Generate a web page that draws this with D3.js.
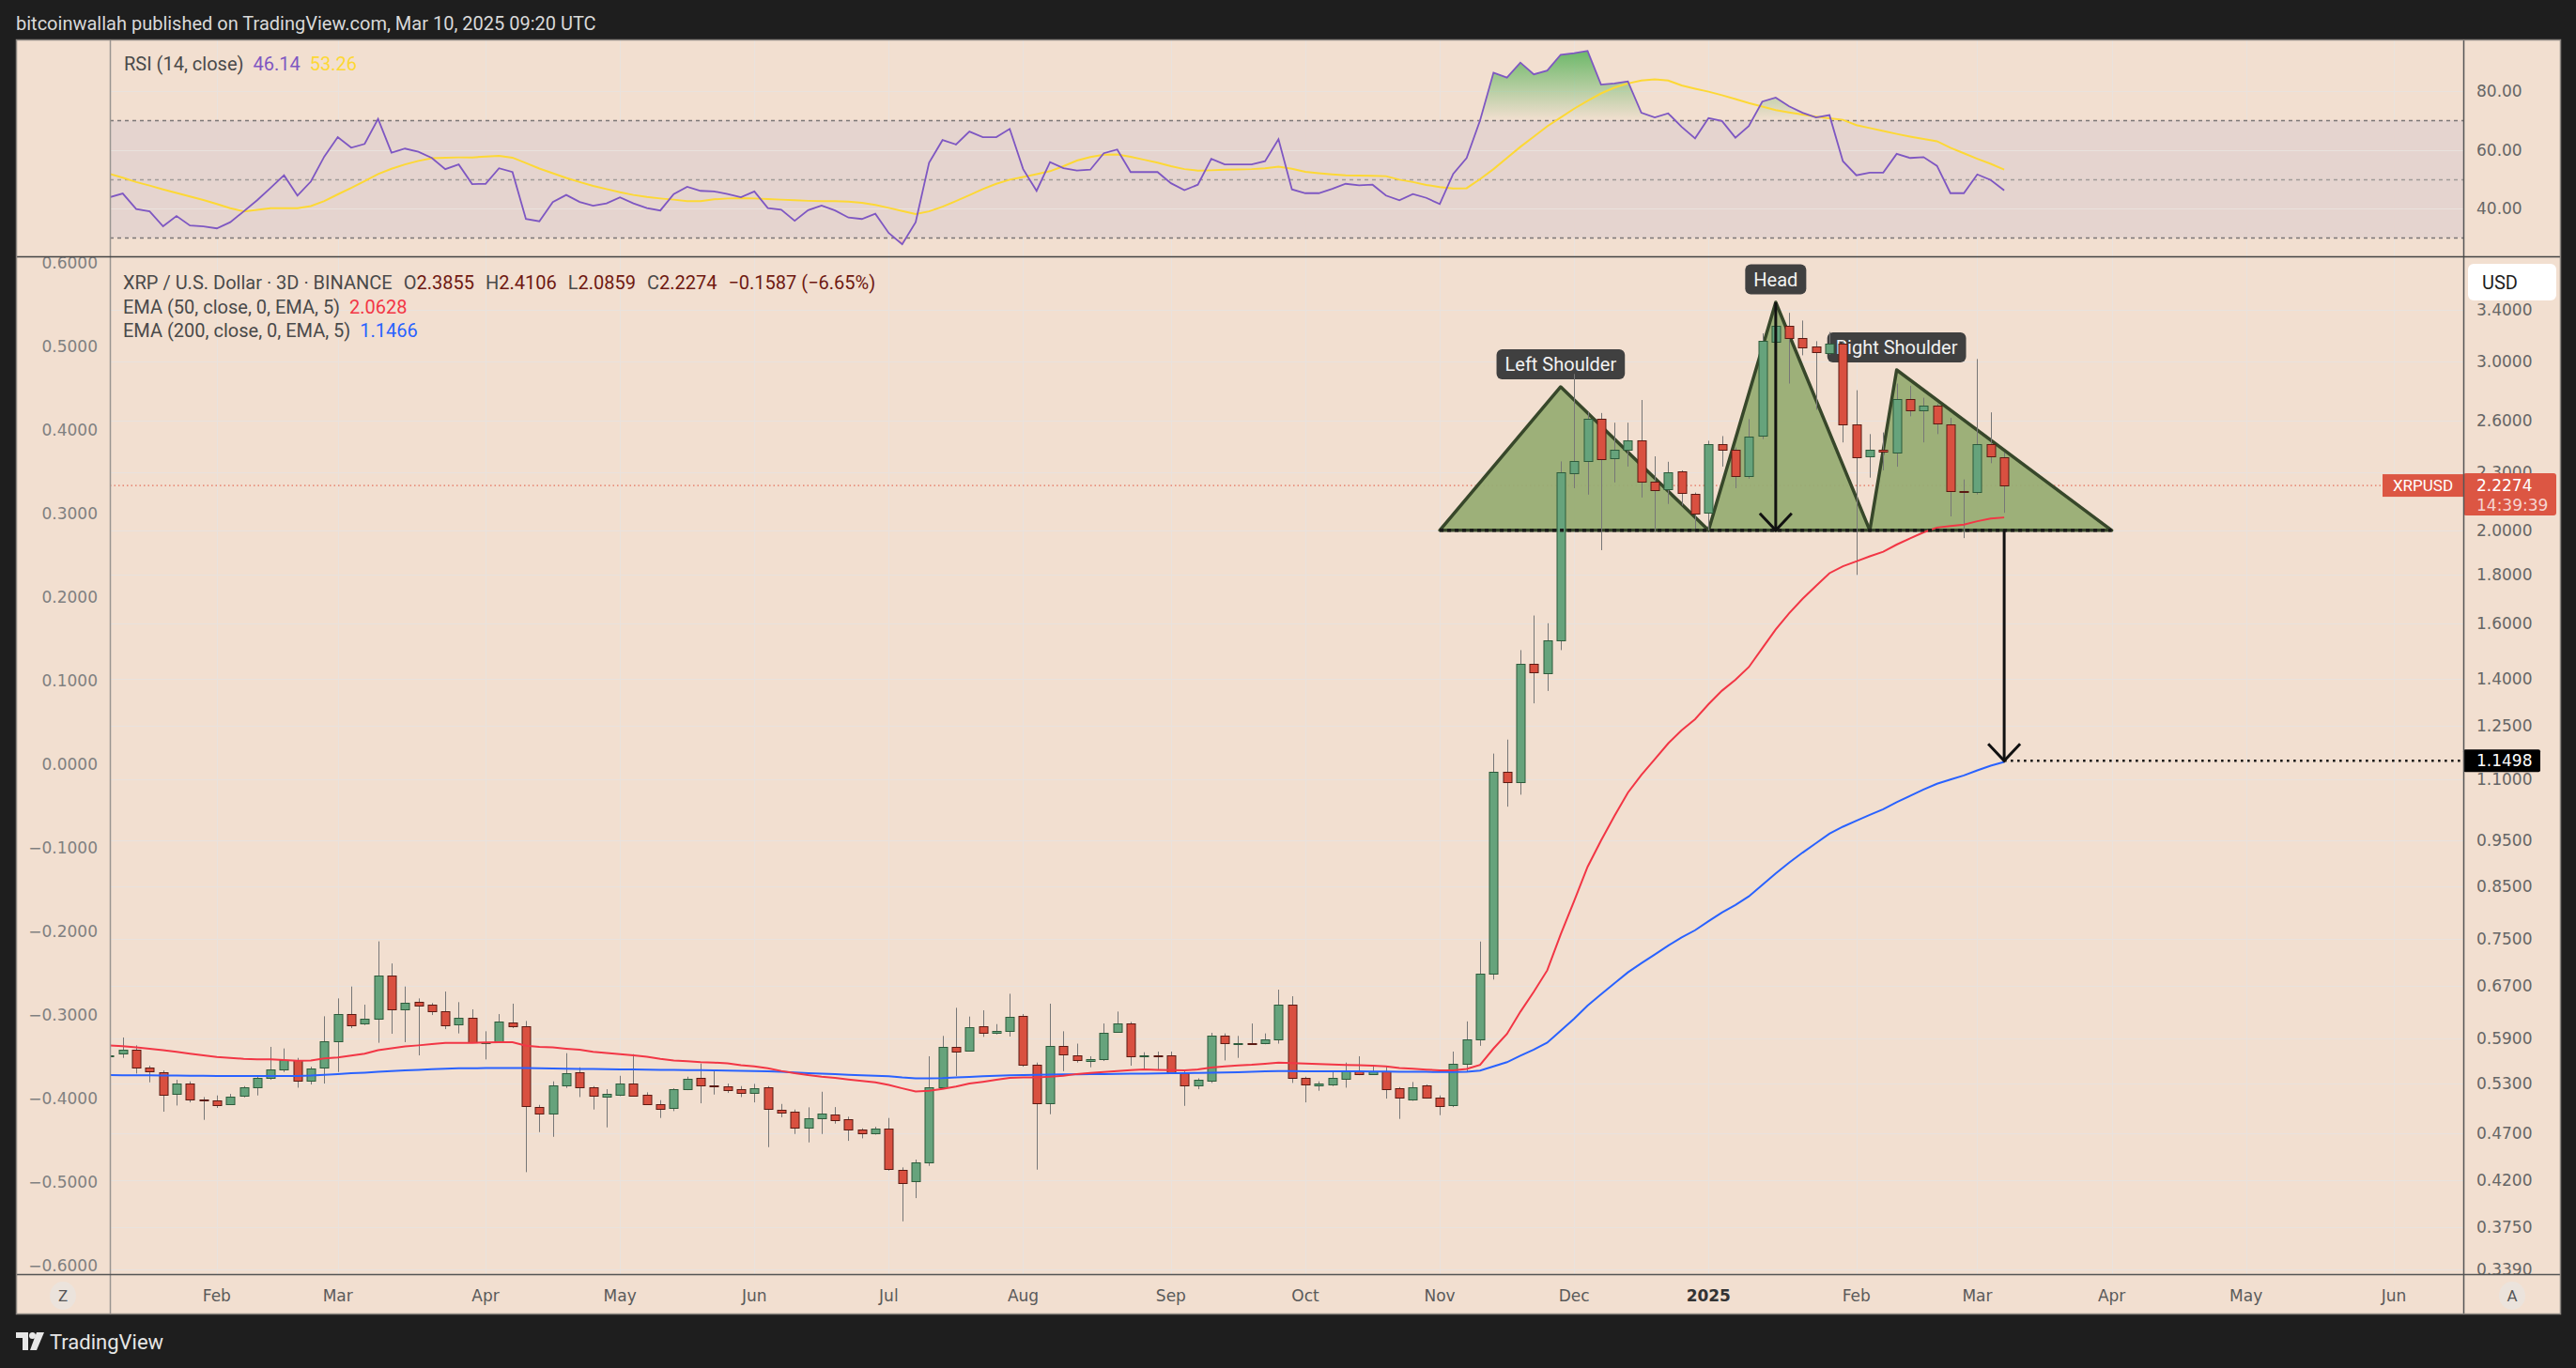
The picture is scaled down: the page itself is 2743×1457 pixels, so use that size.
<!DOCTYPE html>
<html><head><meta charset="utf-8">
<script src="https://cdn.jsdelivr.net/npm/d3@7"></script>
<style>
html,body{margin:0;padding:0;background:#1e1e1e;overflow:hidden;}
svg{display:block;}
</style></head><body>
<svg id="chart" width="2743" height="1457"></svg>
<script>
// ---------------- DATA ----------------
const barStart = "2024-01-10";   // first 3D bar
const barDays = 3;
const opens = [
.5660,.5690,.5741,.5500,.5446,.5159,.5293,.5098,.5090,.5036,
.5136,.5245,.5365,.5475,.5600,.5325,.5500,.5860,.6259,.6110,
.6184,.6861,.6321,.6441,.6402,.6307,.6096,.6198,.5842,.5860,
.6133,.6073,.5006,.4932,.5273,.5438,.5245,.5128,.5155,.5297,
.5155,.5044,.4988,.5222,.5365,.5273,.5257,.5222,.5175,.5245,
.4977,.4947,.4761,.4874,.4914,.4863,.4739,.4693,.4750,.4308,
.4187,.4380,.5245,.5785,.5728,.6073,.5984,.6006,.6226,.5537,
.5048,.5793,.5668,.5583,.5613,.5993,.6119,.5660,.5668,.5664,
.5434,.5277,.5325,.5939,.5834,.5838,.5830,.5886,.6402,.5365,
.5277,.5285,.5365,.5458,.5418,.5458,.5233,.5101,.5273,.5117,
.5025,.5550,.5887,.6890,1.119,1.092,1.450,1.420,1.535,2.297,
2.364,2.616,2.376,2.425,2.482,2.247,2.205,2.302,2.185,2.084,
2.458,2.425,2.277,2.506,3.150,3.271,3.177,3.107,3.066,3.133,
2.581,2.385,2.425,2.413,2.741,2.666,2.696,2.581,2.199,2.190,
2.458,2.3855];
const highs = [
.5690,.5917,.5806,.5529,.5467,.5345,.5325,.5128,.5148,.5167,
.5265,.5405,.5785,.5763,.5634,.5516,.6226,.6499,.6687,.6402,
.7453,.7068,.6687,.6499,.6427,.6607,.6441,.6331,.6006,.6259,
.6417,.6156,.5033,.5325,.5698,.5508,.5265,.5226,.5397,.5685,
.5187,.5090,.5237,.5385,.5558,.5467,.5297,.5265,.5293,.5265,
.5044,.4977,.5003,.5194,.5006,.4892,.4757,.4775,.4877,.4331,
.4413,.5656,.5939,.6354,.6222,.6316,.6110,.6572,.6259,.5571,
.6417,.6006,.5830,.5656,.6119,.6297,.6142,.5711,.5720,.5720,
.5467,.5365,.5984,.5975,.5939,.6119,.5975,.6637,.6533,.5385,
.5325,.5467,.5571,.5656,.5541,.5529,.5253,.5317,.5285,.5148,
.5720,.6150,.7450,1.170,1.210,1.500,1.630,1.600,2.360,2.911,
2.661,2.651,2.590,2.590,2.735,2.389,2.358,2.310,2.190,2.480,
2.508,2.440,2.612,3.210,3.400,3.372,3.310,3.150,3.220,3.150,
2.800,2.520,2.530,2.845,2.830,2.750,2.710,2.620,2.260,3.018,
2.655,2.4106];
const lows = [
.5650,.5634,.5426,.5313,.4951,.5025,.5063,.4855,.4996,.5033,
.5124,.5148,.5345,.5446,.5245,.5285,.5297,.5446,.6051,.6096,
.5842,.5970,.5851,.5668,.6245,.6037,.5975,.5838,.5613,.5851,
.6051,.4282,.4714,.4661,.5241,.5128,.4977,.4768,.5140,.5136,
.5033,.4877,.4958,.5214,.5052,.5159,.5179,.5128,.5063,.4547,
.4885,.4693,.4599,.4693,.4811,.4616,.4644,.4686,.4298,.3805,
.4023,.4347,.5226,.5393,.5720,.5926,.5961,.5930,.5516,.4308,
.4921,.5458,.5571,.5508,.5592,.5984,.5529,.5487,.5467,.5430,
.5021,.5226,.5305,.5600,.5634,.5830,.5821,.5830,.5305,.5063,
.5206,.5265,.5245,.5405,.5409,.5109,.4866,.5082,.5109,.4910,
.5006,.5450,.5800,.6800,1.030,1.060,1.320,1.360,1.500,2.213,
2.179,1.907,2.244,2.331,2.164,1.992,2.131,2.123,2.000,2.000,
2.331,2.213,2.264,2.490,3.000,2.845,3.045,2.672,3.050,2.470,
1.797,2.270,2.310,2.330,2.630,2.470,2.520,2.068,1.963,2.180,
2.350,2.0859];
const closes = [
.5668,.5741,.5500,.5446,.5159,.5293,.5090,.5090,.5036,.5128,
.5245,.5365,.5475,.5600,.5325,.5487,.5860,.6259,.6096,.6184,
.6861,.6321,.6427,.6378,.6307,.6096,.6198,.5842,.5851,.6142,
.6073,.5014,.4932,.5273,.5426,.5245,.5140,.5163,.5297,.5148,
.5044,.4988,.5222,.5353,.5265,.5265,.5206,.5175,.5237,.4977,
.4947,.4761,.4874,.4929,.4848,.4739,.4693,.4750,.4308,.4178,
.4380,.5245,.5785,.5720,.6060,.5984,.6015,.6212,.5537,.5048,
.5793,.5677,.5600,.5613,.5984,.6119,.5651,.5668,.5660,.5434,
.5277,.5345,.5939,.5834,.5838,.5834,.5886,.6402,.5365,.5277,
.5297,.5365,.5458,.5426,.5458,.5233,.5117,.5253,.5117,.5014,
.5550,.5887,.6890,1.119,1.092,1.450,1.420,1.535,2.297,2.364,
2.616,2.376,2.425,2.482,2.247,2.201,2.297,2.185,2.084,2.458,
2.425,2.277,2.506,3.150,3.271,3.177,3.107,3.066,3.133,2.581,
2.385,2.425,2.413,2.741,2.666,2.696,2.581,2.199,2.195,2.458,
2.3861,2.2274];
const ema50 = [
.5806,.5795,.5777,.5760,.5738,.5716,.5690,.5668,.5647,.5634,
.5621,.5616,.5613,.5605,.5594,.5600,.5628,.5640,.5665,.5690,
.5740,.5765,.5790,.5806,.5825,.5842,.5842,.5842,.5846,.5851,
.5851,.5800,.5785,.5777,.5760,.5745,.5718,.5700,.5685,.5668,
.5650,.5620,.5600,.5588,.5577,.5571,.5560,.5535,.5520,.5495,
.5460,.5430,.5405,.5385,.5370,.5350,.5330,.5313,.5280,.5237,
.5198,.5206,.5230,.5260,.5297,.5320,.5345,.5370,.5377,.5377,
.5385,.5397,.5420,.5435,.5446,.5458,.5470,.5479,.5475,.5470,
.5467,.5480,.5505,.5520,.5532,.5541,.5555,.5571,.5565,.5558,
.5552,.5545,.5540,.5535,.5529,.5520,.5500,.5490,.5478,.5467,
.5467,.5486,.5541,.5762,.5967,.6294,.6604,.6953,.7581,.8210,
.8914,.9496,1.0074,1.0652,1.1115,1.1542,1.1990,1.2377,1.2709,1.3174,
1.3608,1.3967,1.4402,1.5072,1.5764,1.6391,1.6966,1.7503,1.8045,1.8349,
1.8565,1.8788,1.8997,1.9327,1.9615,1.9903,2.0134,2.0207,2.0275,2.0444,
2.0579,2.0628];
const ema200 = [
.5405,.5404,.5403,.5402,.5400,.5399,.5397,.5396,.5395,.5394,
.5394,.5393,.5393,.5393,.5395,.5400,.5410,.5420,.5430,.5438,
.5448,.5458,.5467,.5475,.5482,.5488,.5494,.5496,.5498,.5499,
.5500,.5498,.5495,.5492,.5490,.5487,.5485,.5483,.5481,.5479,
.5477,.5475,.5474,.5472,.5470,.5468,.5465,.5462,.5458,.5454,
.5448,.5440,.5432,.5425,.5418,.5410,.5403,.5398,.5390,.5375,
.5365,.5365,.5368,.5375,.5382,.5390,.5398,.5404,.5406,.5408,
.5412,.5414,.5416,.5418,.5420,.5422,.5424,.5426,.5428,.5430,
.5432,.5434,.5436,.5440,.5444,.5450,.5455,.5458,.5457,.5456,
.5455,.5455,.5455,.5454,.5453,.5452,.5450,.5449,.5448,.5447,
.5446,.5450,.5464,.5521,.5576,.5663,.5748,.5845,.6015,.6190,
.6389,.6562,.6738,.6918,.7073,.7222,.7379,.7523,.7655,.7823,
.7987,.8134,.8304,.8535,.8776,.9005,.9224,.9437,.9655,.9816,
.9956,1.0098,1.0238,1.0409,1.0570,1.0733,1.0883,1.0994,1.1103,1.1237,
1.1363,1.1466];
const rsi = [
43.8,45.1,39.8,39.0,33.9,37.4,34.2,33.9,33.2,35.3,
39.0,42.8,47.0,51.3,44.4,49.2,57.7,64.3,60.7,62.0,
70.5,59.0,60.4,59.3,57.2,53.4,55.0,48.3,48.4,53.7,
52.4,36.4,35.6,42.2,44.6,42.2,40.9,41.7,43.8,41.7,
40.1,39.3,44.9,47.4,46.0,45.8,44.9,43.8,45.8,40.1,
39.6,35.8,39.4,41.0,39.3,36.9,36.4,38.2,31.6,27.8,
35.3,55.6,63.3,61.8,66.2,64.3,64.3,67.1,53.4,46.0,
55.8,53.7,52.9,53.2,58.8,60.1,52.4,52.4,52.4,48.6,
46.2,48.1,56.9,55.0,55.0,55.0,56.1,63.6,46.5,45.2,
45.2,46.7,48.4,47.9,48.1,44.4,42.8,44.9,43.6,41.5,
51.8,57.2,70.0,86.3,84.6,89.7,85.7,87.0,92.4,92.9,
93.7,82.2,82.6,83.3,72.6,71.0,72.4,67.8,63.9,70.8,
69.8,64.1,68.1,76.4,77.8,74.8,72.6,71.0,71.8,56.1,
51.3,52.2,52.2,58.6,57.2,57.5,54.5,45.2,45.2,51.6,
49.7,46.14];
const rsiMA = [
51.8,50.5,49.0,47.8,46.5,45.3,44.1,42.9,41.5,40.1,
39.0,39.5,40.1,40.1,40.1,40.8,42.5,44.8,47.0,49.3,
51.7,53.5,55.0,56.2,57.1,57.3,57.4,57.4,57.7,57.9,
57.3,55.5,53.6,52.0,50.4,49.0,47.7,46.6,45.5,44.6,
43.9,43.4,43.0,42.5,42.5,43.1,43.4,43.5,43.4,43.2,
43.0,42.8,42.6,42.5,42.5,42.3,41.9,41.2,40.2,39.1,
38.1,39.0,40.6,42.5,44.5,46.6,48.4,49.8,50.7,51.7,
52.7,54.4,56.3,57.5,58.3,58.4,57.6,56.6,55.6,54.4,
53.4,52.9,53.0,53.2,53.3,53.4,53.7,54.2,53.5,52.5,
52.0,51.6,51.3,51.2,51.1,51.0,49.8,49.0,48.0,47.3,
46.8,46.9,50.0,53.4,57.2,61.0,64.5,68.0,71.0,74.0,
76.7,79.2,81.2,82.6,83.6,84.0,83.6,81.9,80.8,79.8,
78.6,77.3,75.9,74.7,73.5,72.7,72.0,71.3,70.7,70.2,
68.4,67.4,66.4,65.4,64.5,63.7,62.9,60.7,58.8,56.9,
55.2,53.26];

const monthLabels = ["Feb","Mar","Apr","May","Jun","Jul","Aug","Sep","Oct","Nov","Dec","2025","Feb","Mar","Apr","May","Jun"];
const monthStarts = ["2024-02-01","2024-03-01","2024-04-01","2024-05-01","2024-06-01","2024-07-01","2024-08-01","2024-09-01","2024-10-01","2024-11-01","2024-12-01","2025-01-01","2025-02-01","2025-03-01","2025-04-01","2025-05-01","2025-06-01"];
const priceTicks = [3.4,3.0,2.6,2.3,2.0,1.8,1.6,1.4,1.25,1.1,0.95,0.85,0.75,0.67,0.59,0.53,0.47,0.42,0.375,0.339];
const leftTicks = [0.6,0.5,0.4,0.3,0.2,0.1,0,-0.1,-0.2,-0.3,-0.4,-0.5,-0.6];
const rsiTicks = [80,60,40];
const rsiLevels = [70,50,30];

// Head & shoulders annotation (bar index, price)
const neckPrice = 2.0;
const leftShoulder = [[99,2.0],[108,2.823],[119,2.0]];
const headPts = [[119,2.0],[124,3.458],[131,2.0]];
const rightShoulder = [[131,2.0],[133,2.94],[149,2.0]];
const neckline = [[99,2.0],[149,2.0]];
const patternLabels = [{t:"Left Shoulder",bar:108,p:2.98},{t:"Head",bar:124,p:3.654},{t:"Right Shoulder",bar:133,p:3.103}];
const headArrow = {bar:124, from:3.458, to:2.0};
const targetArrow = {bar:141, from:2.0, to:1.1498};
const targetPrice = 1.1498;
const lastPrice = 2.2274;

// ---------------- LAYOUT ----------------
const W=2743,H=1457;
const FX0=17,FX1=2727,FY0=42,FY1=1400;
const PX0=117,PX1=2623;
const RY0=43,RY1=273,PY0=273,PY1=1357;
const N = closes.length;
const DAY=864e5;
const start = new Date(barStart+"T00:00:00Z");
const barDate = i => new Date(start.getTime()+i*barDays*DAY);

const x = d3.scaleTime().domain([start, new Date("2025-06-03T00:00:00Z")]).range([116.4, 2549.1]);
const xi = i => x(barDate(i));
const yP = d3.scaleLog().domain([0.3352, 3.862]).range([PY1, PY0]);
const yL = d3.scaleLinear().domain([-0.6,0.6]).range([1347.7,280.3]);
const yR = d3.scaleLinear().domain([23.68,97.28]).range([RY1,RY0]);

const BG="#f2dfd0";
const AX_FONT='"DejaVu Sans", Verdana, sans-serif';
const UI_FONT='Roboto, "Liberation Sans", Arial, sans-serif';

const svg = d3.select("#chart");
const defs = svg.append("defs");
defs.append("clipPath").attr("id","plotClip").append("rect").attr("x",PX0).attr("y",PY0).attr("width",PX1-PX0).attr("height",PY1-PY0);
defs.append("clipPath").attr("id","rsiClip").append("rect").attr("x",PX0).attr("y",RY0).attr("width",PX1-PX0).attr("height",RY1-RY0);
defs.append("clipPath").attr("id","rAxClip").append("rect").attr("x",PX1).attr("y",PY0).attr("width",FX1-PX1).attr("height",PY1-PY0);
defs.append("clipPath").attr("id","obClip").append("rect").attr("x",PX0).attr("y",RY0).attr("width",PX1-PX0).attr("height",yR(70)-RY0);
defs.append("clipPath").attr("id","osClip").append("rect").attr("x",PX0).attr("y",yR(30)).attr("width",PX1-PX0).attr("height",RY1-yR(30));
const gOB = defs.append("linearGradient").attr("id","obGrad").attr("gradientUnits","userSpaceOnUse").attr("x1",0).attr("x2",0).attr("y1",yR(95)).attr("y2",yR(70));
gOB.append("stop").attr("offset",0).attr("stop-color","#4caf50").attr("stop-opacity",0.85);
gOB.append("stop").attr("offset",1).attr("stop-color","#4caf50").attr("stop-opacity",0);
const gOS = defs.append("linearGradient").attr("id","osGrad").attr("gradientUnits","userSpaceOnUse").attr("x1",0).attr("x2",0).attr("y1",yR(30)).attr("y2",yR(25));
gOS.append("stop").attr("offset",0).attr("stop-color","#f23645").attr("stop-opacity",0);
gOS.append("stop").attr("offset",1).attr("stop-color","#f23645").attr("stop-opacity",0.7);

// background
svg.append("rect").attr("width",W).attr("height",H).attr("fill","#1e1e1e");
svg.append("rect").attr("x",FX0).attr("y",FY0).attr("width",FX1-FX0).attr("height",FY1-FY0).attr("fill",BG);

// header
svg.append("text").attr("x",17).attr("y",25).attr("dominant-baseline","central")
  .attr("font-family",UI_FONT).attr("font-size",20).attr("fill","#d9d9d9")
  .text("bitcoinwallah published on TradingView.com, Mar 10, 2025 09:20 UTC");

// month tick positions (first bar of each month)
const monthX = monthStarts.map(s=>{
  const d=new Date(s+"T00:00:00Z");
  const k=Math.ceil((d-start)/(barDays*DAY));
  return xi(k);
});

// ---------------- GRID ----------------
const grid = svg.append("g");
monthX.forEach(mx=>{
  if(mx>PX0 && mx<PX1){
    grid.append("line").attr("x1",Math.round(mx)+0.5).attr("x2",Math.round(mx)+0.5).attr("y1",RY0).attr("y2",PY1)
      .attr("stroke","#e9e2dd").attr("stroke-width",1);
  }
});
priceTicks.forEach(p=>{
  const yy=Math.round(yP(p))+0.5;
  if(yy>PY0+2 && yy<PY1) grid.append("line").attr("x1",PX0).attr("x2",PX1).attr("y1",yy).attr("y2",yy).attr("stroke","#e9e2dd").attr("stroke-width",1);
});

// ---------------- RSI PANE ----------------
const rsiG = svg.append("g").attr("clip-path","url(#rsiClip)");
rsiG.append("rect").attr("x",PX0).attr("width",PX1-PX0).attr("y",yR(70)).attr("height",yR(30)-yR(70)).attr("fill","#e5d4cf");
rsiTicks.forEach(v=>{
  const yy=Math.round(yR(v))+0.5;
  rsiG.append("line").attr("x1",PX0).attr("x2",PX1).attr("y1",yy).attr("y2",yy).attr("stroke","#e9e2dd");
});
rsiLevels.forEach(v=>{
  const yy=Math.round(yR(v))+0.5;
  rsiG.append("line").attr("x1",PX0).attr("x2",PX1).attr("y1",yy).attr("y2",yy)
    .attr("stroke", v===50?"#a09a98":"#7b7676").attr("stroke-width",1.3).attr("stroke-dasharray","4,4");
});
const idx = d3.range(N);
rsiG.append("path").datum(idx).attr("clip-path","url(#obClip)")
  .attr("d", d3.area().x(i=>xi(i)).y0(yR(70)).y1(i=>yR(rsi[i])))
  .attr("fill","url(#obGrad)");
rsiG.append("path").datum(idx).attr("clip-path","url(#osClip)")
  .attr("d", d3.area().x(i=>xi(i)).y0(yR(30)).y1(i=>yR(rsi[i])))
  .attr("fill","url(#osGrad)");
rsiG.append("path").datum(idx).attr("d", d3.line().x(i=>xi(i)).y(i=>yR(rsiMA[i])))
  .attr("fill","none").attr("stroke","#fdd835").attr("stroke-width",2);
rsiG.append("path").datum(idx).attr("d", d3.line().x(i=>xi(i)).y(i=>yR(rsi[i])))
  .attr("fill","none").attr("stroke","#7e57c2").attr("stroke-width",1.8);

// RSI legend
const rl = svg.append("text").attr("x",132).attr("y",68).attr("dominant-baseline","central")
  .attr("font-family",UI_FONT).attr("font-size",20).attr("fill","#4a4a4a");
rl.append("tspan").text("RSI (14, close)");
rl.append("tspan").attr("dx",10).attr("fill","#7e57c2").text("46.14");
rl.append("tspan").attr("dx",10).attr("fill","#fdd835").text("53.26");

// RSI axis labels
rsiTicks.forEach(v=>{
  svg.append("text").attr("x",2637).attr("y",yR(v)).attr("dominant-baseline","central")
    .attr("font-family",AX_FONT).attr("font-size",17).attr("fill","#666").text(v.toFixed(2));
});

// ---------------- PRICE PANE ----------------
const pG = svg.append("g").attr("clip-path","url(#plotClip)");
const pt = d => [xi(d[0]), yP(d[1])];

// current price dotted line
pG.append("line").attr("x1",PX0).attr("x2",PX1).attr("y1",yP(lastPrice)).attr("y2",yP(lastPrice))
  .attr("stroke","#e0533f").attr("stroke-width",1).attr("stroke-dasharray","1.5,3");

// triangles
[leftShoulder, headPts, rightShoulder].forEach(tri=>{
  pG.append("path").attr("d", d3.line()(tri.map(pt))+"Z")
    .attr("fill","#98ad74").attr("fill-opacity",0.95)
    .attr("stroke","#37472a").attr("stroke-width",3.5).attr("stroke-linejoin","round");
});

// labels
patternLabels.forEach(l=>{
  const g = pG.append("g");
  const t = g.append("text").attr("x",xi(l.bar)).attr("y",yP(l.p)).attr("text-anchor","middle")
    .attr("dominant-baseline","central").attr("font-family",UI_FONT).attr("font-size",20).attr("fill","#f2f2f2").text(l.t);
  const w = t.node().getComputedTextLength()+18;
  g.insert("rect","text").attr("x",xi(l.bar)-w/2).attr("y",yP(l.p)-16).attr("width",w).attr("height",32).attr("rx",6).attr("fill","#404040");
});

// candles
const cg = pG.append("g");
idx.forEach(i=>{
  const up = closes[i]>=opens[i];
  const cx = Math.round(xi(i))+0.5;
  cg.append("line").attr("x1",cx).attr("x2",cx).attr("y1",yP(highs[i])).attr("y2",yP(lows[i]))
    .attr("stroke","#777").attr("stroke-width",1);
  const yt = yP(Math.max(opens[i],closes[i])), yb = yP(Math.min(opens[i],closes[i]));
  cg.append("rect").attr("x",cx-4.5).attr("width",9).attr("y",Math.round(yt)+0.5).attr("height",Math.max(1,Math.round(yb-yt)))
    .attr("fill", up?"#66a37c":"#d95040").attr("stroke", up?"#2d5b3b":"#5b1a12").attr("stroke-width",1);
});

// EMAs
pG.append("path").datum(idx).attr("d", d3.line().x(i=>xi(i)).y(i=>yP(ema200[i])))
  .attr("fill","none").attr("stroke","#2962ff").attr("stroke-width",2);
pG.append("path").datum(idx).attr("d", d3.line().x(i=>xi(i)).y(i=>yP(ema50[i])))
  .attr("fill","none").attr("stroke","#f23645").attr("stroke-width",2);

// neckline
pG.append("path").attr("d", d3.line()(neckline.map(pt)))
  .attr("stroke","#1a1a1a").attr("stroke-width",3.5).attr("stroke-dasharray","4,4").attr("fill","none");

// arrows
function arrow(a){
  const ax = xi(a.bar), y1=yP(a.from), y2=yP(a.to);
  pG.append("line").attr("x1",ax).attr("x2",ax).attr("y1",y1).attr("y2",y2).attr("stroke","#111").attr("stroke-width",3);
  pG.append("path").attr("d",`M${ax-17},${y2-18}L${ax},${y2}L${ax+17},${y2-18}`)
    .attr("fill","none").attr("stroke","#111").attr("stroke-width",3);
}
arrow(headArrow);
arrow(targetArrow);
pG.append("line").attr("x1",xi(targetArrow.bar)).attr("x2",PX1).attr("y1",yP(targetPrice)).attr("y2",yP(targetPrice))
  .attr("stroke","#111").attr("stroke-width",2.5).attr("stroke-dasharray","2.5,4.5");

// price legend
const l1 = svg.append("text").attr("x",131).attr("y",301).attr("dominant-baseline","central")
  .attr("font-family",UI_FONT).attr("font-size",20).attr("fill","#4a4a4a");
l1.append("tspan").text("XRP / U.S. Dollar · 3D · BINANCE");
[["O","2.3855"],["H","2.4106"],["L","2.0859"],["C","2.2274"]].forEach(([k,v])=>{
  l1.append("tspan").attr("dx",12).text(k);
  l1.append("tspan").attr("fill","#6e1912").text(v);
});
l1.append("tspan").attr("dx",12).attr("fill","#6e1912").text("−0.1587 (−6.65%)");
const l2 = svg.append("text").attr("x",131).attr("y",327).attr("dominant-baseline","central")
  .attr("font-family",UI_FONT).attr("font-size",20).attr("fill","#4a4a4a");
l2.append("tspan").text("EMA (50, close, 0, EMA, 5)");
l2.append("tspan").attr("dx",10).attr("fill","#f23645").text("2.0628");
const l3 = svg.append("text").attr("x",131).attr("y",352).attr("dominant-baseline","central")
  .attr("font-family",UI_FONT).attr("font-size",20).attr("fill","#4a4a4a");
l3.append("tspan").text("EMA (200, close, 0, EMA, 5)");
l3.append("tspan").attr("dx",10).attr("fill","#2962ff").text("1.1466");

// right axis labels
const rAx = svg.append("g").attr("clip-path","url(#rAxClip)");
priceTicks.forEach(p=>{
  rAx.append("text").attr("x",2637).attr("y",yP(p)).attr("dominant-baseline","central")
    .attr("font-family",AX_FONT).attr("font-size",17).attr("fill","#666").text(p.toFixed(4));
});
// left axis labels
leftTicks.forEach(v=>{
  svg.append("text").attr("x",104).attr("y",yL(v)).attr("dominant-baseline","central").attr("text-anchor","end")
    .attr("font-family",AX_FONT).attr("font-size",17).attr("fill","#808080")
    .text((v<0?"−":"")+Math.abs(v).toFixed(4));
});

// overlays on the right axis
svg.append("rect").attr("x",2628).attr("y",281).attr("width",94).attr("height",39).attr("rx",6).attr("fill","#ffffff");
svg.append("text").attr("x",2643).attr("y",300.5).attr("dominant-baseline","central").attr("font-family",UI_FONT)
  .attr("font-size",20).attr("fill","#1e1e1e").text("USD");
const yLast = yP(lastPrice);
svg.append("rect").attr("x",PX1).attr("y",yLast-13).attr("width",99).attr("height",45).attr("rx",3).attr("fill","#dc5643");
svg.append("text").attr("x",2637).attr("y",yLast).attr("dominant-baseline","central").attr("font-family",AX_FONT)
  .attr("font-size",17).attr("fill","#ffffff").text(lastPrice.toFixed(4));
svg.append("text").attr("x",2637).attr("y",yLast+21).attr("dominant-baseline","central").attr("font-family",AX_FONT)
  .attr("font-size",17).attr("fill","#ffffff").attr("fill-opacity",0.75).text("14:39:39");
svg.append("rect").attr("x",2537).attr("y",yLast-12).attr("width",PX1-2537).attr("height",24).attr("fill","#dc5643");
svg.append("text").attr("x",2580).attr("y",yLast).attr("text-anchor","middle").attr("dominant-baseline","central")
  .attr("font-family",UI_FONT).attr("font-size",17).attr("fill","#ffffff").text("XRPUSD");
const yT = yP(targetPrice);
svg.append("rect").attr("x",PX1).attr("y",yT-12).attr("width",82).attr("height",24).attr("rx",2).attr("fill","#000");
svg.append("text").attr("x",2637).attr("y",yT).attr("dominant-baseline","central").attr("font-family",AX_FONT)
  .attr("font-size",17).attr("fill","#ffffff").text(targetPrice.toFixed(4));

// ---------------- TIME AXIS ----------------
monthLabels.forEach((m,k)=>{
  svg.append("text").attr("x",monthX[k]).attr("y",1380).attr("text-anchor","middle").attr("dominant-baseline","central")
    .attr("font-family",AX_FONT).attr("font-size",17).attr("fill", m==="2025"?"#333":"#5a5a5a")
    .attr("font-weight", m==="2025"?"bold":"normal").text(m);
});
[["Z",67],["A",2675]].forEach(([t,cx])=>{
  svg.append("ellipse").attr("cx",cx).attr("cy",1380).attr("rx",14).attr("ry",15).attr("fill","#ebe3dc");
  svg.append("text").attr("x",cx).attr("y",1380).attr("text-anchor","middle").attr("dominant-baseline","central")
    .attr("font-family",UI_FONT).attr("font-size",17).attr("fill","#555").text(t);
});

// ---------------- FRAME LINES ----------------
const fr = svg.append("g").attr("stroke-width",1.5);
fr.append("line").attr("x1",PX0+0.5).attr("x2",PX0+0.5).attr("y1",FY0).attr("y2",FY1).attr("stroke","#9a9591");
fr.append("line").attr("x1",PX1+0.5).attr("x2",PX1+0.5).attr("y1",FY0).attr("y2",FY1).attr("stroke","#555");
fr.append("line").attr("x1",FX0).attr("x2",FX1).attr("y1",PY0+0.5).attr("y2",PY0+0.5).attr("stroke","#444");
fr.append("line").attr("x1",FX0).attr("x2",FX1).attr("y1",PY1+0.5).attr("y2",PY1+0.5).attr("stroke","#555");
fr.append("rect").attr("x",FX0+0.5).attr("y",FY0+0.5).attr("width",FX1-FX0-1).attr("height",FY1-FY0-1).attr("fill","none").attr("stroke","#8a8580");

// ---------------- FOOTER ----------------
const logo = svg.append("g").attr("fill","#e6e6e6");
logo.append("path").attr("d","M17,1419 h13 v19 h-6 v-13 h-7 z");
logo.append("circle").attr("cx",34.5).attr("cy",1422.5).attr("r",3.5);
logo.append("path").attr("d","M39,1419 h8 l-8,19 h-7 z");
svg.append("text").attr("x",53).attr("y",1429).attr("dominant-baseline","central").attr("font-family",UI_FONT)
  .attr("font-size",22).attr("fill","#e6e6e6").text("TradingView");
</script></body></html>
